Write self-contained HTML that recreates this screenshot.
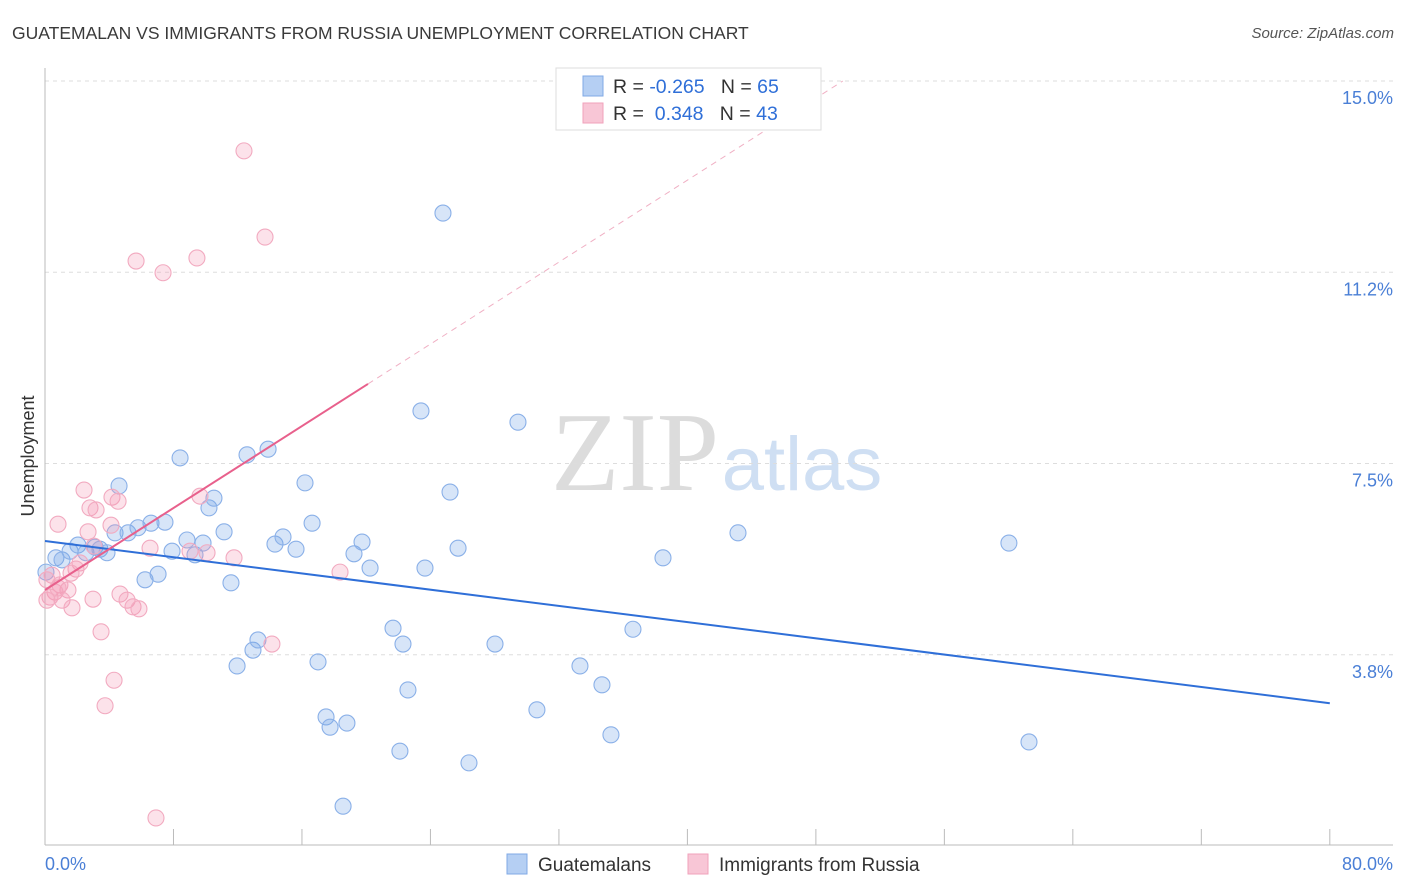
<!DOCTYPE html>
<html><head><meta charset="utf-8">
<style>
body{margin:0;background:#fff;font-family:"Liberation Sans",sans-serif;}
#wrap{position:relative;width:1406px;height:892px;overflow:hidden;}
.t{position:absolute;white-space:nowrap;}
</style></head>
<body>
<div id="wrap">
<div class="t" style="left:12px;top:23px;font-size:17.5px;color:#3a3a3a;">GUATEMALAN VS IMMIGRANTS FROM RUSSIA UNEMPLOYMENT CORRELATION CHART</div>
<div class="t" style="right:12px;top:25px;font-size:15px;color:#555;font-style:italic;">Source: ZipAtlas.com</div>
<svg id="plot" width="1406" height="892" style="position:absolute;left:0;top:0"></svg>
</div>
<script>
const xTicksLabels=["0.0%","80.0%"];
const yTickValues=[3.75,7.5,11.25,15];
const yTickLabels=["3.8%","7.5%","11.2%","15.0%"];
const blueX=[0.68,1.06,1.56,2.05,2.55,3.11,3.42,3.86,4.61,4.36,5.17,5.79,6.23,6.60,7.04,7.47,7.91,8.41,8.84,9.34,9.84,10.21,10.52,11.15,11.58,11.96,12.58,12.95,13.26,13.89,14.32,14.82,15.63,16.19,16.63,17.00,17.50,17.75,18.80,18.56,19.24,19.74,20.24,21.67,22.10,22.29,22.60,23.41,23.66,24.78,25.22,25.72,26.40,28.02,29.45,30.63,33.31,34.68,35.24,36.61,38.48,43.15,60.02,61.27,0.06];
const blueY=[5.65,5.61,5.78,5.90,5.75,5.86,5.82,5.75,7.06,6.14,6.14,6.24,5.22,6.33,5.33,6.35,5.78,7.61,6.00,5.71,5.94,6.63,6.82,6.16,5.16,3.53,7.67,3.84,4.04,7.78,5.92,6.06,5.82,7.12,6.33,3.61,2.53,2.33,2.41,0.78,5.73,5.96,5.45,4.27,1.86,3.96,3.06,8.53,5.45,12.41,6.94,5.84,1.63,3.96,8.31,2.67,3.53,3.16,2.18,4.25,5.65,6.14,5.94,2.04,5.37];
const pinkX=[12.39,13.70,5.67,7.35,9.46,2.43,0.81,4.17,4.55,2.80,3.18,9.65,4.11,2.68,3.05,6.54,10.09,11.77,9.03,2.18,1.93,1.62,0.44,0.12,0.93,1.43,0.62,0.31,1.06,2.99,4.67,5.11,5.48,5.85,1.68,3.49,14.13,18.37,4.30,3.74,6.91,0.81,0.12];
const pinkY=[13.63,11.94,11.47,11.24,11.53,6.98,6.31,6.84,6.76,6.63,6.59,6.86,6.29,6.16,5.88,5.84,5.75,5.65,5.78,5.55,5.43,5.35,5.31,5.22,5.12,5.02,4.98,4.88,4.82,4.84,4.94,4.82,4.69,4.65,4.67,4.20,3.96,5.37,3.25,2.75,0.55,5.06,4.82];
const blueTrend=[5.98,2.80];
const pinkTrend=[5.02,9.06,20.11];

const X=v=>45+v*16.06, Y=v=>846-v*51.0;
const svg=document.getElementById('plot');const NS='http://www.w3.org/2000/svg';
function mk(tag,attrs,parent){const e=document.createElementNS(NS,tag);for(const k in attrs)e.setAttribute(k,attrs[k]);(parent||svg).appendChild(e);return e;}
let w1=mk('text',{x:635,y:490,'font-size':112,'font-family':'Liberation Serif, serif',fill:'#dcdcdc','text-anchor':'middle'});w1.textContent='ZIP';


let w2=mk('text',{x:802,y:490,'font-size':76,'font-family':'Liberation Sans, sans-serif',fill:'#cfdff3','text-anchor':'middle'});w2.textContent='atlas';


yTickValues.forEach((v,i)=>{
 const g=mk('line',{x1:45,x2:1393,y1:Y(v),y2:Y(v),stroke:'#ddd','stroke-dasharray':'4,4'});
 
 
 const t=mk('text',{x:1393,y:Y(v)+23,'font-size':18,fill:'#4a7fd6','text-anchor':'end'});t.textContent=yTickLabels[i];
 
 
});
let ax=mk('line',{x1:45,x2:45,y1:68,y2:845,stroke:'#bbb'});


let bx=mk('line',{x1:45,x2:1393,y1:845,y2:845,stroke:'#bbb'});


for(let k=1;k<=10;k++){const tk=mk('line',{x1:X(k*8),x2:X(k*8),y1:829,y2:845,stroke:'#bbb'});
 
 }
let xl0=mk('text',{x:45,y:870,'font-size':18,fill:'#4a7fd6'});xl0.textContent=xTicksLabels[0];


let xl1=mk('text',{x:1393,y:870,'font-size':18,fill:'#4a7fd6','text-anchor':'end'});xl1.textContent=xTicksLabels[1];


let yt=mk('text',{x:34,y:456,'font-size':18,fill:'#333','text-anchor':'middle',transform:'rotate(-90 34 456)'});yt.textContent='Unemployment';


blueX.forEach((v,i)=>{const c=mk('circle',{cx:X(v),cy:Y(blueY[i]),r:8,fill:'rgba(110,160,230,0.28)',stroke:'#8ab0e8','stroke-width':1.1});
 
 });
pinkX.forEach((v,i)=>{const c=mk('circle',{cx:X(v),cy:Y(pinkY[i]),r:8,fill:'rgba(245,150,180,0.28)',stroke:'#f2aac0','stroke-width':1.1});
 
 });
let bl=mk('line',{x1:X(0),y1:Y(blueTrend[0]),x2:X(80),y2:Y(blueTrend[1]),stroke:'#2f6fd8','stroke-width':2});


const slope=(pinkTrend[1]-pinkTrend[0])/pinkTrend[2];
const xEnd=(15-pinkTrend[0])/slope;
let pd=mk('line',{x1:X(pinkTrend[2]),y1:Y(pinkTrend[1]),x2:X(xEnd),y2:Y(15),stroke:'#f0b0c4','stroke-width':1,'stroke-dasharray':'6,5'});


let pl=mk('line',{x1:X(0),y1:Y(pinkTrend[0]),x2:X(pinkTrend[2]),y2:Y(pinkTrend[1]),stroke:'#e8608c','stroke-width':2});


let lg=mk('rect',{x:556,y:68,width:265,height:62,fill:'#fff',stroke:'#ddd'});


[[0,'#b5cff3','#80aae6','-0.265','65'],[1,'#f8c6d6','#f0a2bb','0.348','43']].forEach(r=>{
 const y=86+r[0]*27;
 const s=mk('rect',{x:583,y:y-10,width:20,height:20,fill:r[1],stroke:r[2]});
 
 
 const t=mk('text',{x:613,y:y+7,'font-size':19.5,fill:'#333'});
 t.innerHTML='R = <tspan fill="#2f6fd8">'+(r[0]?'&#160;':'')+r[3]+'</tspan>&#160;&#160;&#160;N = <tspan fill="#2f6fd8">'+r[4]+'</tspan>';
 
 
});
[[507,'#b5cff3','#80aae6','Guatemalans'],[688,'#f8c6d6','#f0a2bb','Immigrants from Russia']].forEach(r=>{
 const s=mk('rect',{x:r[0],y:854,width:20,height:20,fill:r[1],stroke:r[2]});
 
 
 const t=mk('text',{x:r[0]+31,y:871,'font-size':19,fill:'#333'});t.textContent=r[3];
 
 
});
</script>
</body></html>
